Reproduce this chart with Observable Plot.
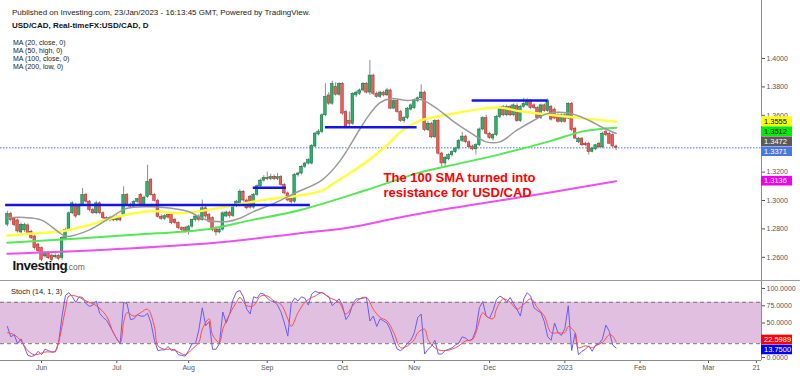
<!DOCTYPE html>
<html><head><meta charset="utf-8">
<script src="https://cdn.jsdelivr.net/npm/d3@7"></script>
<script src="https://cdn.jsdelivr.net/npm/@observablehq/plot@0.6"></script>
<style>
html,body{margin:0;padding:0;background:#fff;}
#chart{position:relative;width:800px;height:376px;overflow:hidden;}
#chart svg{display:block;}
</style></head><body><div id="chart"></div>
<script>
// ---- trading-day index 0 = 1 Jun 2022 (weekdays only) ----
const firstDay = -10;
const open = [
1.2830,1.2905,1.2870,1.2860,1.2775,1.2790,1.2825,1.2780,1.2746,1.2690,
1.2664,1.2606,1.2629,1.2612,1.2600,1.2610,1.2594,1.2723,1.2793,1.2910,
1.2968,1.2898,1.2968,1.3039,1.2992,1.2933,1.2910,1.2980,1.2910,1.2875,
1.2860,1.2875,1.2860,1.2885,1.2898,1.3039,1.2968,1.2957,1.2990,1.3039,
1.2968,1.3026,1.3144,1.3038,1.2998,1.2885,1.2870,1.2898,1.2898,1.2863,
1.2840,1.2805,1.2805,1.2782,1.2816,1.2863,1.2887,1.2863,1.2945,1.2898,
1.2875,1.2805,1.2775,1.2795,1.2887,1.2915,1.2890,1.2960,1.2980,1.3062,
1.3000,1.3027,1.2950,1.3040,1.3100,1.3140,1.3160,1.3150,1.3165,1.3150,
1.3165,1.3110,1.3050,1.3010,1.2992,1.3180,1.3190,1.3237,1.3260,1.3260,
1.3380,1.3465,1.3483,1.3600,1.3740,1.3682,1.3800,1.3745,1.3822,1.3623,
1.3560,1.3540,1.3740,1.3752,1.3775,1.3822,1.3760,1.3880,1.3752,1.3729,
1.3760,1.3740,1.3775,1.3647,1.3700,1.3623,1.3560,1.3580,1.3640,1.3650,
1.3700,1.3720,1.3760,1.3495,1.3540,1.3445,1.3560,1.3331,1.3261,1.3290,
1.3319,1.3340,1.3366,1.3420,1.3450,1.3410,1.3380,1.3360,1.3390,1.3500,
1.3580,1.3470,1.3436,1.3460,1.3588,1.3658,1.3600,1.3658,1.3600,1.3665,
1.3560,1.3660,1.3670,1.3700,1.3670,1.3650,1.3580,1.3670,1.3630,1.3660,
1.3640,1.3600,1.3555,1.3600,1.3577,1.3681,1.3506,1.3410,1.3436,1.3400,
1.3400,1.3343,1.3360,1.3400,1.3375,1.3483,1.3470,1.3460,1.3380];
const high = [
1.2925,1.2915,1.2880,1.2870,1.2840,1.2840,1.2835,1.2790,1.2755,1.2700,
1.2672,1.2640,1.2640,1.2622,1.2625,1.2620,1.2745,1.2805,1.2920,1.2990,
1.2980,1.2975,1.3085,1.3050,1.3000,1.2945,1.2995,1.2990,1.2920,1.2885,
1.2890,1.2885,1.2895,1.2895,1.3097,1.3050,1.2980,1.3000,1.3015,1.3050,
1.3030,1.3248,1.3155,1.3050,1.3010,1.2900,1.2900,1.2910,1.2910,1.2875,
1.2850,1.2815,1.2815,1.2825,1.2870,1.2895,1.2900,1.3003,1.2960,1.2910,
1.2885,1.2815,1.2805,1.2920,1.2925,1.2925,1.2970,1.3000,1.3075,1.3070,
1.3010,1.3035,1.3050,1.3110,1.3150,1.3175,1.3200,1.3185,1.3180,1.3190,
1.3175,1.3120,1.3060,1.3020,1.3190,1.3200,1.3245,1.3270,1.3295,1.3395,
1.3480,1.3500,1.3610,1.3822,1.3760,1.3840,1.3830,1.3830,1.3830,1.3635,
1.3623,1.3760,1.3770,1.3785,1.3830,1.3830,1.3986,1.3890,1.3765,1.3770,
1.3770,1.3790,1.3785,1.3710,1.3710,1.3635,1.3590,1.3655,1.3680,1.3715,
1.3730,1.3815,1.3770,1.3555,1.3550,1.3570,1.3570,1.3340,1.3310,1.3330,
1.3350,1.3375,1.3430,1.3480,1.3460,1.3420,1.3390,1.3400,1.3510,1.3590,
1.3600,1.3480,1.3470,1.3600,1.3660,1.3670,1.3670,1.3670,1.3680,1.3680,
1.3670,1.3720,1.3717,1.3710,1.3680,1.3660,1.3680,1.3680,1.3715,1.3670,
1.3650,1.3610,1.3610,1.3610,1.3690,1.3690,1.3515,1.3445,1.3445,1.3410,
1.3410,1.3375,1.3395,1.3410,1.3480,1.3510,1.3480,1.3470,1.3390];
const low = [
1.2815,1.2850,1.2815,1.2770,1.2765,1.2775,1.2760,1.2725,1.2650,1.2630,
1.2570,1.2595,1.2585,1.2570,1.2590,1.2575,1.2580,1.2715,1.2785,1.2900,
1.2875,1.2890,1.2960,1.2980,1.2920,1.2900,1.2900,1.2900,1.2865,1.2850,
1.2850,1.2850,1.2850,1.2850,1.2885,1.2960,1.2945,1.2945,1.2980,1.2955,
1.2960,1.3015,1.3030,1.2990,1.2875,1.2860,1.2860,1.2870,1.2830,1.2830,
1.2795,1.2780,1.2770,1.2755,1.2805,1.2850,1.2850,1.2855,1.2870,1.2840,
1.2780,1.2750,1.2765,1.2785,1.2880,1.2875,1.2880,1.2950,1.2970,1.2990,
1.2935,1.2940,1.2940,1.3030,1.3090,1.3130,1.3140,1.3140,1.3140,1.3140,
1.3100,1.3040,1.2990,1.2975,1.2980,1.3165,1.3180,1.3225,1.3250,1.3250,
1.3370,1.3455,1.3470,1.3590,1.3670,1.3670,1.3735,1.3735,1.3600,1.3505,
1.3510,1.3530,1.3725,1.3740,1.3765,1.3750,1.3740,1.3740,1.3720,1.3720,
1.3730,1.3735,1.3640,1.3640,1.3615,1.3550,1.3545,1.3570,1.3630,1.3640,
1.3690,1.3710,1.3485,1.3485,1.3435,1.3435,1.3320,1.3228,1.3230,1.3280,
1.3305,1.3330,1.3355,1.3410,1.3400,1.3365,1.3350,1.3320,1.3380,1.3490,
1.3460,1.3430,1.3420,1.3450,1.3575,1.3590,1.3590,1.3590,1.3590,1.3550,
1.3550,1.3650,1.3660,1.3640,1.3640,1.3570,1.3570,1.3620,1.3620,1.3560,
1.3570,1.3545,1.3545,1.3545,1.3570,1.3485,1.3430,1.3400,1.3380,1.3380,
1.3320,1.3335,1.3350,1.3365,1.3365,1.3450,1.3395,1.3375,1.3350];
const close = [
1.2905,1.2862,1.2827,1.2782,1.2828,1.2828,1.2770,1.2735,1.2664,1.2643,
1.2583,1.2629,1.2594,1.2582,1.2610,1.2590,1.2735,1.2793,1.2910,1.2980,
1.2887,1.2968,1.3039,1.2992,1.2933,1.2910,1.2980,1.2910,1.2875,1.2860,
1.2875,1.2860,1.2885,1.2860,1.3039,1.2968,1.2957,1.2990,1.3010,1.2968,
1.3020,1.3131,1.3038,1.2998,1.2885,1.2870,1.2890,1.2880,1.2840,1.2840,
1.2805,1.2793,1.2782,1.2816,1.2863,1.2887,1.2863,1.2945,1.2887,1.2851,
1.2793,1.2775,1.2795,1.2910,1.2915,1.2890,1.2960,1.2992,1.3062,1.3000,
1.2945,1.2950,1.3040,1.3100,1.3140,1.3160,1.3150,1.3165,1.3150,1.3165,
1.3110,1.3050,1.3000,1.2990,1.3180,1.3190,1.3237,1.3260,1.3284,1.3385,
1.3471,1.3485,1.3600,1.3729,1.3682,1.3822,1.3745,1.3820,1.3612,1.3518,
1.3540,1.3752,1.3760,1.3775,1.3822,1.3760,1.3880,1.3752,1.3729,1.3760,
1.3740,1.3775,1.3647,1.3700,1.3623,1.3560,1.3580,1.3647,1.3670,1.3705,
1.3720,1.3760,1.3495,1.3540,1.3445,1.3560,1.3330,1.3261,1.3300,1.3319,
1.3340,1.3366,1.3420,1.3450,1.3410,1.3375,1.3360,1.3390,1.3500,1.3580,
1.3470,1.3440,1.3460,1.3588,1.3647,1.3600,1.3658,1.3600,1.3670,1.3560,
1.3660,1.3680,1.3700,1.3650,1.3650,1.3580,1.3670,1.3630,1.3700,1.3570,
1.3577,1.3555,1.3600,1.3553,1.3681,1.3495,1.3436,1.3436,1.3389,1.3389,
1.3340,1.3366,1.3389,1.3375,1.3470,1.3460,1.3400,1.3380,1.3371];

// moving averages (read at sample days)
const ma20Days = [-10,-5,0,5,7,10,14,20,25,32,38,43,48,54,58,62,68,74,82,87,93,96,99,102,107,111,115,120,125,130,134,139,144,148,154,160,164,168];
const ma20 = [1.2879,1.2880,1.2862,1.2778,1.2748,1.2758,1.2793,1.2877,1.2945,1.2956,1.2945,1.2922,1.2865,1.2851,1.2875,1.2922,1.2980,1.3051,1.3144,1.3270,1.3500,1.3610,1.3690,1.3717,1.3705,1.3710,1.3658,1.3565,1.3483,1.3413,1.3413,1.3495,1.3565,1.3612,1.3616,1.3565,1.3514,1.3472];
const ma50Days = [-10,-4,5,14,22,32,40,49,58,66,74,82,86,90,95,101,105,108,111,120,129,134,140,155,168];
const ma50 = [1.2753,1.2765,1.2781,1.2828,1.2886,1.2925,1.2910,1.2935,1.2975,1.3008,1.3030,1.3070,1.3130,1.3190,1.3272,1.3389,1.3485,1.3530,1.3565,1.3610,1.3647,1.3655,1.3628,1.3588,1.3555];
const ma100Days = [-10,27,49,61,76,95,111,120,134,149,158,168];
const ma100 = [1.2702,1.2758,1.2800,1.2860,1.2935,1.3074,1.3200,1.3249,1.3325,1.3420,1.3485,1.3512];
const ma200Days = [-10,20,50,75,90,105,120,135,150,168];
const ma200 = [1.2625,1.2655,1.2700,1.2768,1.2810,1.2882,1.2947,1.3004,1.3062,1.3136];

// drawn horizontal levels
const levelFrom = [-10.5, 61.9, 83, 125.9];
const levelTo = [78.6, 71.6, 109.8, 148.1];
const levelPrice = [1.2968, 1.3090, 1.3516, 1.3705];

// stochastic %K (one value per day from firstDay) and %D (sample days)
const stochK = [
45,30,33,20,27,15,3,1.5,3,9,
4,12,10,8,8,22,60,90,94,88,
80,88,87,78,74,76,82,64,58,54,
45,36,27,20,80,78,55,56,62,60,
60,64,50,25,10,11,11,16,10,12,
4,3,2,10,20,20,40,72,46,52,
12,12,20,66,50,63,84,95,97,88,
70,63,88,86,93,92,86,82,81,76,
66,50,31,78,86,82,88,86,76,92,
96,94,94,91,88,75,80,85,75,55,
62,78,85,85,86,87,53,60,45,56,
53,50,40,25,12,10,14,21,25,36,
58,63,5,12,16,25,5,5,10,12,
14,18,21,30,28,24,27,40,72,81,
60,57,68,84,89,86,80,87,78,70,
60,85,94,89,72,68,65,52,30,25,
50,36,32,42,75,10,35,4,9,12,
17,9,18,20,27,47,38,18,13.75];
const stochDDays = [-10,-8,-6,-4,-2,1,4,5,7,8,10,13,16,19,21,23,24,25,27,29,31,33,34,36,38,40,42,44,46,47,49,50,52,53,55,57,58,60,62,64,66,68,70,72,73,75,77,79,80,82,84,87,89,91,93,95,97,99,101,103,105,107,109,110,112,113,115,117,120,122,124,126,127,129,130,132,133,135,137,139,141,143,145,147,149,151,153,154,156,157,159,161,162,164,166,167,168];
const stochD = [36,33,24,10,4,8,9,22,70,89,89,82,75,60,36,22,51,65,60,65,70,45,17,12,12,8,4,12,22,41,56,33,22,41,63,80,87,75,75,89,89,82,77,56,45,65,80,87,89,94,87,80,63,75,85,87,70,58,53,36,14,17,26,36,41,26,14,10,12,17,24,26,36,65,60,56,70,85,80,70,77,85,72,60,36,36,36,45,36,14,17,14,17,22,33,31,22.5989];
const stochUpper = 80, stochLower = 20;

// axes (1.3400 and 25.0000 sit under the value labels in the reference)
const priceTicks = [1.26,1.28,1.30,1.32,1.36,1.38,1.40];
const stochTicks = [0,50,75,100];
const monthTickDays = [0,22,43,66,88,109,131,153,175,195,209];
const monthTickLabels = ["Jun","Jul","Aug","Sep","Oct","Nov","Dec","2023","Feb","Mar","21"];
const xDomain = [-12, 210.5];
const priceDomain = [1.24366, 1.44085];
const stochDomain = [-4.35, 111.6];

// texts
const headerLines = ["Published on Investing.com, 23/Jan/2023 - 16:13:45 GMT, Powered by TradingView.", "USD/CAD, Real-timeFX:USD/CAD, D"];
const maLegend = ["MA (20, close, 0)", "MA (50, high, 0)", "MA (100, close, 0)", "MA (200, low, 0)"];
const annotLines = ["The 100 SMA turned into", "resistance for USD/CAD"];
const annotDay = 100;
const annotPrices = [1.3162, 1.3056];
const stochTitle = "Stoch (14, 1, 3)";

// ---- build ----
const FONT = '"Liberation Sans", Arial, sans-serif';
const upFill = "#26b36a", upStroke = "#17643c", dnFill = "#ef5b55", dnStroke = "#9c2b27";
const candles = close.map((c, k) => ({day: firstDay + k, open: open[k], high: high[k], low: low[k], close: c, up: c >= open[k]}));
const series = (days, vals) => days.map((d, k) => ({day: d, v: vals[k]}));
const levels = levelPrice.map((p, k) => ({a: levelFrom[k], b: levelTo[k], p}));
const lastPrice = close[close.length - 1];

const main = Plot.plot({
  width: 800, height: 280, marginLeft: 0, marginRight: 39, marginTop: 0, marginBottom: 0,
  style: {fontFamily: FONT, fontSize: "7px", color: "#555", background: "#fff", overflow: "visible"},
  x: {domain: xDomain, axis: null},
  y: {domain: priceDomain, axis: "right", ticks: priceTicks, tickFormat: d => d.toFixed(4), tickSize: 3, tickPadding: 2, label: null},
  marks: [
    Plot.ruleY([lastPrice], {stroke: "#4a74e0", strokeDasharray: "1.5,1.5", strokeWidth: 1}),
    Plot.ruleX(candles, {x: "day", y1: "low", y2: "high", stroke: "#8c8c8c", strokeWidth: 1}),
    Plot.rect(candles, {x1: d => d.day - 0.38, x2: d => d.day + 0.38, y1: "open", y2: "close",
      fill: d => d.up ? upFill : dnFill, stroke: d => d.up ? upStroke : dnStroke, strokeWidth: 0.5}),
    Plot.line(series(ma200Days, ma200), {x: "day", y: "v", stroke: "#ee4ff0", strokeWidth: 2, curve: "catmull-rom"}),
    Plot.line(series(ma100Days, ma100), {x: "day", y: "v", stroke: "#55e855", strokeWidth: 2, curve: "catmull-rom"}),
    Plot.line(series(ma50Days, ma50), {x: "day", y: "v", stroke: "#ffff40", strokeWidth: 2.5, curve: "catmull-rom"}),
    Plot.line(series(ma20Days, ma20), {x: "day", y: "v", stroke: "#9a9a9a", strokeWidth: 1.5, curve: "catmull-rom"}),
    Plot.ruleY(levels, {y: "p", x1: "a", x2: "b", stroke: "#1414e6", strokeWidth: 2.5}),
    Plot.text(annotLines.map((t, k) => ({t, p: annotPrices[k]})), {x: () => annotDay, y: "p", text: "t", textAnchor: "start",
      fill: "#ff0000", fontSize: 13, fontWeight: "bold"}),
    Plot.ruleX([xDomain[1]], {stroke: "#8a8a8a", strokeWidth: 1})
  ]
});

const stoch = Plot.plot({
  width: 800, height: 96, marginLeft: 0, marginRight: 39, marginTop: 0, marginBottom: 16,
  style: {fontFamily: FONT, fontSize: "7px", color: "#555", background: "#fff", overflow: "visible"},
  x: {domain: xDomain, axis: "bottom", ticks: monthTickDays, tickFormat: d => monthTickLabels[monthTickDays.indexOf(d)], tickSize: 3, tickPadding: 2, label: null},
  y: {domain: stochDomain, axis: "right", ticks: stochTicks, tickFormat: d => d.toFixed(4), tickSize: 3, tickPadding: 2, label: null},
  marks: [
    Plot.rect([{lo: stochLower, hi: stochUpper}], {x1: () => xDomain[0], x2: () => xDomain[1], y1: "lo", y2: "hi", fill: "#e0bfe0"}),
    Plot.ruleY([stochLower, stochUpper], {stroke: "#777", strokeDasharray: "4,3", strokeWidth: 1}),
    Plot.line(stochK.map((v, k) => ({day: firstDay + k, v})), {x: "day", y: "v", stroke: "#6a5cf5", strokeWidth: 1}),
    Plot.line(series(stochDDays, stochD), {x: "day", y: "v", stroke: "#ff4d4d", strokeWidth: 1, curve: "catmull-rom"}),
    Plot.ruleY([stochDomain[0]], {stroke: "#8a8a8a", strokeWidth: 1}),
    Plot.ruleX([xDomain[1]], {stroke: "#8a8a8a", strokeWidth: 1})
  ]
});

const root = document.getElementById("chart");
root.appendChild(main);
root.appendChild(stoch);

// value labels on the price scale
function valueLabels(svg, plot, items, spread, digits) {
  const ys = plot.scale("y"), xs = plot.scale("x");
  const x0 = xs.apply(xDomain[1]);
  const pos = items.map(d => ({...d, cy: ys.apply(d.value)})).sort((a, b) => a.cy - b.cy);
  const gap = 10;
  if (spread === "down") {
    for (let k = 1; k < pos.length; k++) if (pos[k].cy < pos[k-1].cy + gap) pos[k].cy = pos[k-1].cy + gap;
  } else {
    for (let k = 1; k < pos.length; k++) if (pos[k].cy < pos[k-1].cy + gap) {
      const m = (pos[k].cy + pos[k-1].cy) / 2; pos[k-1].cy = m - gap/2; pos[k].cy = m + gap/2;
    }
  }
  const g = d3.select(svg).append("g").attr("text-anchor", "start");
  for (const d of pos) {
    g.append("rect").attr("x", x0).attr("y", d.cy - 4.8).attr("width", 31).attr("height", 9.6).attr("fill", d.bg);
    g.append("text").attr("x", x0 + 3).attr("y", d.cy).attr("dy", "0.35em").attr("fill", d.fg)
      .attr("font-family", FONT).attr("font-size", 7.5).text(d.value.toFixed(digits));
  }
}
valueLabels(main, main, [
  {value: ma50[ma50.length-1], bg: "#ffff00", fg: "#000"},
  {value: ma100[ma100.length-1], bg: "#00ee00", fg: "#000"},
  {value: ma20[ma20.length-1], bg: "#5a5a5a", fg: "#fff"},
  {value: lastPrice, bg: "#4a78e0", fg: "#fff"},
  {value: ma200[ma200.length-1], bg: "#ee00ee", fg: "#fff"}
], "down", 4);
valueLabels(stoch, stoch, [
  {value: stochD[stochD.length-1], bg: "#ff0000", fg: "#fff"},
  {value: stochK[stochK.length-1], bg: "#0000ff", fg: "#fff"}
], "center", 4);

// header texts
const mg = d3.select(main).append("g").attr("font-family", FONT).attr("text-anchor", "start");
mg.append("text").attr("x", 12).attr("y", 15).attr("font-size", 8).attr("fill", "#222").text(headerLines[0]);
mg.append("text").attr("x", 12).attr("y", 28).attr("font-size", 8).attr("font-weight", "bold").attr("fill", "#111").text(headerLines[1]);
maLegend.forEach((t, k) => mg.append("text").attr("x", 13).attr("y", 45.3 + 8 * k).attr("font-size", 7).attr("fill", "#222").text(t));
mg.append("text").attr("x", 12.5).attr("y", 270).attr("font-size", 13.5).attr("font-weight", "bold").attr("letter-spacing", "-0.5").attr("fill", "#151515").text("Investing");
mg.append("text").attr("x", 66.5).attr("y", 270).attr("font-size", 8.5).attr("fill", "#666").text(".com");
d3.select(stoch).append("text").attr("x", 11).attr("y", 13.5).attr("text-anchor", "start").attr("font-family", FONT).attr("font-size", 7.5).attr("fill", "#222").text(stochTitle);
// panel separator
d3.select(stoch).append("line").attr("x1", 0).attr("x2", 800).attr("y1", 0.5).attr("y2", 0.5).attr("stroke", "#9a9a9a");
</script></body></html>
